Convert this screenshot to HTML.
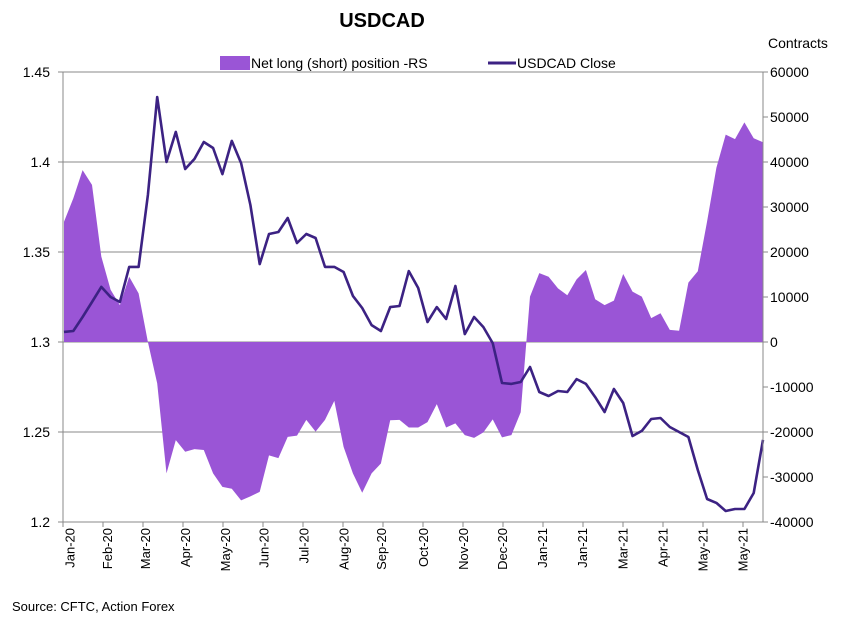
<!DOCTYPE html>
<html><head><meta charset="utf-8"><style>
body{margin:0;background:#fff;font-family:"Liberation Sans",sans-serif;}
svg text{font-family:"Liberation Sans",sans-serif;}
</style></head><body>
<svg id="chart" width="860" height="623" viewBox="0 0 860 623" xmlns="http://www.w3.org/2000/svg">
<text x="382" y="27" font-size="20" font-weight="bold" text-anchor="middle">USDCAD</text>
<text x="768" y="48" font-size="14">Contracts</text>
<g>
<rect x="220" y="56" width="30" height="14" fill="#9a55d6"/>
<text x="251" y="68" font-size="14">Net long (short) position -RS</text>
<line x1="488" y1="63" x2="516" y2="63" stroke="#3c2283" stroke-width="3"/>
<text x="517" y="68" font-size="14">USDCAD Close</text>
</g>
<g id="grid"></g><g id="area"></g><g id="line"></g><g id="axes"></g>
<text x="12" y="611" font-size="13">Source: CFTC, Action Forex</text>
</svg>
<script>
const closeVals=[1.3056,1.3061,1.3139,1.3222,1.3306,1.325,1.3222,1.3417,1.3417,1.3817,1.4361,1.4,1.4167,1.3961,1.4017,1.4111,1.4078,1.3933,1.4117,1.3994,1.3761,1.3433,1.36,1.3611,1.3689,1.355,1.36,1.3578,1.3417,1.3417,1.3389,1.3256,1.3189,1.3094,1.3061,1.3194,1.32,1.3394,1.33,
1.3111,1.3194,1.3128,1.3311,1.3044,1.3139,1.3083,1.2994,1.2772,1.2767,1.2778,1.2861,1.2722,1.27,1.2728,1.2722,1.2794,1.2767,1.2694,1.2611,1.2739,1.2661,1.2478,1.2506,1.2572,1.2578,1.2528,1.25,1.2472,1.2289,1.2128,1.2106,1.2061,1.2072,1.2072,1.2161,1.2456];
const positionVals=[26700,31900,38200,34900,19000,11600,8200,14500,10800,0,-9200,-29200,-21800,-24400,-23800,-24000,-29200,-32200,-32600,-35200,-34300,-33300,-25200,-25800,-21100,-20800,-17300,-19900,-17300,-13100,-23300,-29200,-33500,-29200,-27000,-17400,-17300,-19000,-19000,
-17800,-13800,-19000,-18100,-20700,-21300,-20100,-17200,-21200,-20700,-15600,10100,15300,14500,11900,10400,13900,16000,9500,8200,9200,15100,11200,10100,5300,6400,2700,2500,13200,15700,26800,38700,46100,45100,48800,45300,44400];
const leftTicks=[1.2,1.25,1.3,1.35,1.4,1.45];
const leftTickLabels=["1.2","1.25","1.3","1.35","1.4","1.45"];
const rightTicks=[-40000,-30000,-20000,-10000,0,10000,20000,30000,40000,50000,60000];
const xLabels=["Jan-20","Feb-20","Mar-20","Apr-20","May-20","Jun-20","Jul-20","Aug-20","Sep-20","Oct-20","Nov-20","Dec-20","Jan-21","Jan-21","Mar-21","Apr-21","May-21","May-21"];
const xLabelIdx=[0.6,4.6,8.7,13,17.3,21.4,25.7,30,34,38.5,42.8,47,51.3,55.6,59.9,64.2,68.5,72.8];

const L=63,R=763,T=72,B=522,NS="http://www.w3.org/2000/svg";
const n=closeVals.length;
const xS=i=>L+1+i*(R-L-1)/(n-1);
const yL=v=>B-(v-1.2)/(0.25)*(B-T);
const yR=v=>B-(v+40000)/100000*(B-T);
function mk(tag,attrs,parent){const e=document.createElementNS(NS,tag);for(const k in attrs)e.setAttribute(k,attrs[k]);document.getElementById(parent).appendChild(e);return e;}

leftTicks.forEach((v,i)=>{
 const y=yL(v);
 if(v>1.2){const g=mk('line',{x1:L,x2:R,y1:y,y2:y,stroke:'#8a8a8a','stroke-width':1},'grid');
 
 }
 const t=mk('text',{x:50,y:y+5,'font-size':14,'text-anchor':'end'},'axes');t.textContent=leftTickLabels[i];
 
 
});
rightTicks.forEach(v=>{
 const y=yR(v);
 mk('line',{x1:R,x2:R+5,y1:y,y2:y,stroke:'#888'},'axes');
 const t=mk('text',{x:770,y:y+5,'font-size':14},'axes');t.textContent=v;
 
 
});
let d='M'+xS(0)+','+yR(0);
positionVals.forEach((v,i)=>{d+=' L'+xS(i).toFixed(1)+','+yR(v).toFixed(1);});
d+=' L'+xS(n-1)+','+yR(0)+' Z';
const a=mk('path',{d:d,fill:'#9a55d6'},'area');


const p=mk('polyline',{points:closeVals.map((v,i)=>xS(i).toFixed(1)+','+yL(v).toFixed(1)).join(' '),fill:'none',stroke:'#3c2283','stroke-width':2.6,'stroke-linejoin':'round'},'line');


mk('line',{x1:L,x2:L,y1:T,y2:B,stroke:'#888'},'axes');
mk('line',{x1:R,x2:R,y1:T,y2:B,stroke:'#888'},'axes');
mk('line',{x1:L,x2:R,y1:B,y2:B,stroke:'#888'},'axes');
mk('line',{x1:L,x2:R,y1:T,y2:T,stroke:'#888'},'axes');
for(let i=0;i<=17;i++){const x=L+i*40;mk('line',{x1:x,x2:x,y1:B,y2:B+5,stroke:'#888'},'axes');}
leftTicks.forEach(v=>{const y=yL(v);mk('line',{x1:L-5,x2:L,y1:y,y2:y,stroke:'#888'},'axes');});
xLabels.forEach((s,i)=>{
 const x=xS(xLabelIdx[i])+5,y=528;
 const t=mk('text',{x:x,y:y,'font-size':13,'text-anchor':'end',transform:'rotate(-90 '+x+' '+y+')'},'axes');
 t.textContent=s;
 
 
});
</script>
</body></html>
